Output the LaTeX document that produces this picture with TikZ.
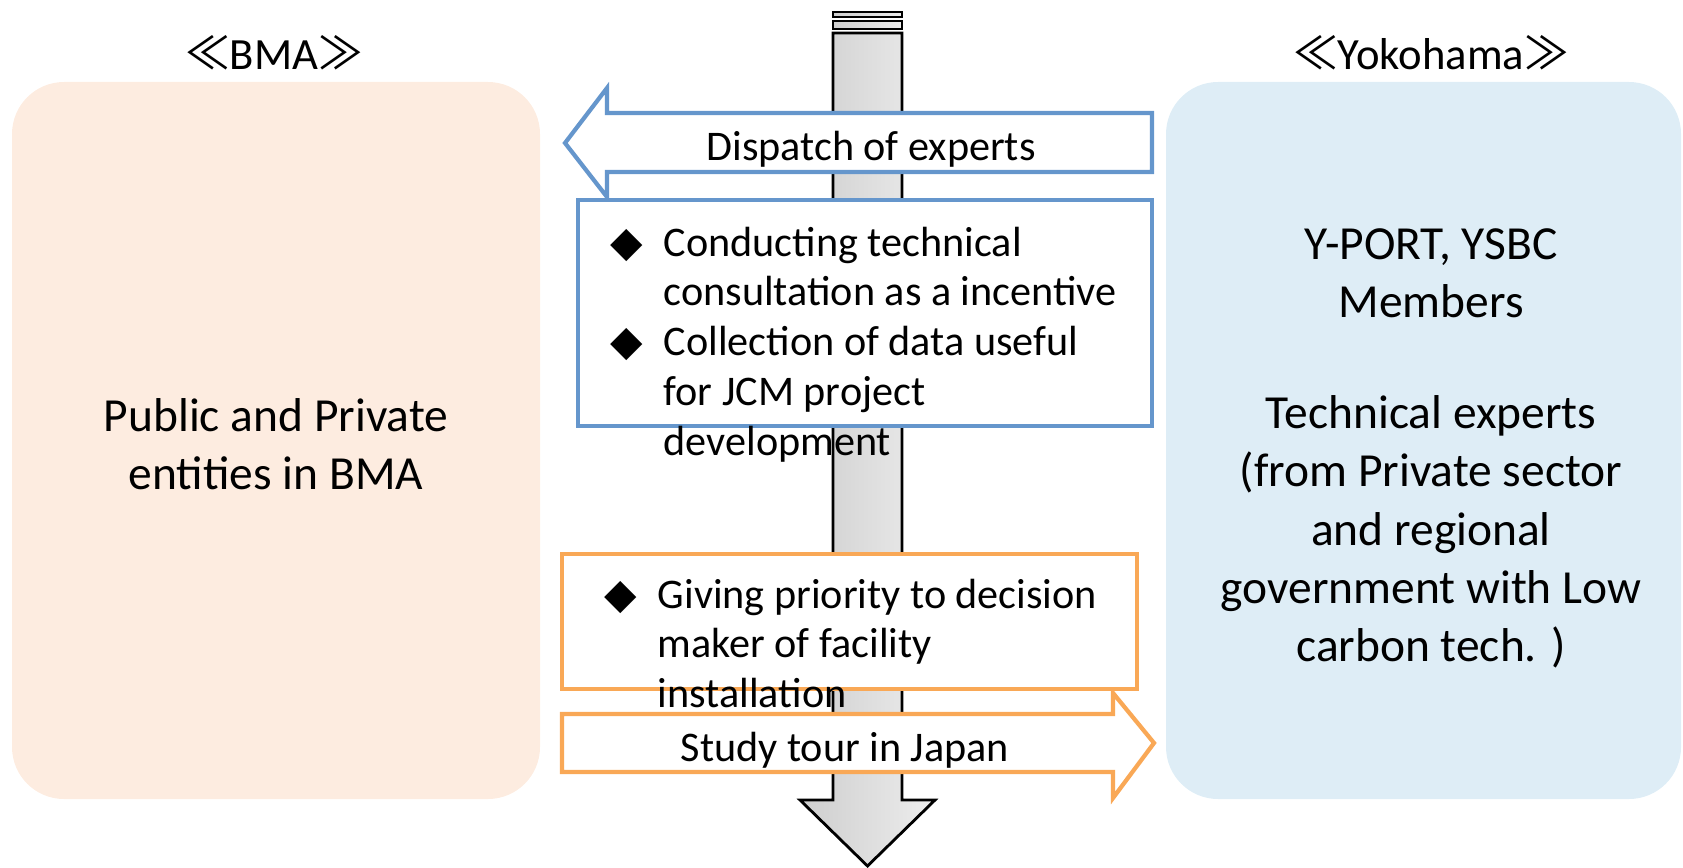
\documentclass[tikz,border=0pt]{standalone}
\usepackage{fontspec}
\setmainfont{Carlito}
\newfontfamily\symfont{DejaVu Sans}
\newfontfamily\cjkfont{Noto Sans CJK JP}

\definecolor{bmafill}{RGB}{253,236,224}
\definecolor{yokofill}{RGB}{222,237,246}
\definecolor{blueline}{RGB}{101,150,204}
\definecolor{orangeline}{RGB}{249,168,86}
\definecolor{shaftleft}{RGB}{206,206,206}
\definecolor{shaftright}{RGB}{237,237,237}

\newcommand{\blt}{\llap{{\symfont ◆}\hspace{6pt}}}
\newcommand{\ltag}{{\cjkfont ≪}}
\newcommand{\rtag}{{\cjkfont ≫}}

\begin{document}
\begin{tikzpicture}[x=0.01cm,y=-0.01cm]
    \tikzstyle{panel}=[rounded corners=0.52cm]
    \tikzstyle{title}=[font=\fontsize{12.7}{15}\selectfont]
    \tikzstyle{big text}=[align=center, font=\fontsize{13.5}{16.6}\selectfont]
    \tikzstyle{list text}=[align=left, inner sep=0pt, anchor=north west, font=\fontsize{12}{14.2}\selectfont]
    \tikzstyle{arrow text}=[font=\fontsize{12}{14.2}\selectfont]
    \tikzstyle{blue frame}=[draw=blueline, line width=1.2pt, fill=white]
    \tikzstyle{orange frame}=[draw=orangeline, line width=1.2pt, fill=white]

    \useasboundingbox (0,0) rectangle (1683,867);

    % Two sides
    \fill[bmafill, panel] (12,82) rectangle (540,799);
    \fill[yokofill, panel] (1166,82) rectangle (1681,799);
    \node[title] (bma) at (274,53) {\ltag BMA\rtag};
    \node[title] (yokohama) at (1431,53) {\ltag Yokohama\rtag};

    % Time arrow in the middle
    \path[draw=black, line width=0.8pt, left color=shaftleft, right color=shaftright]
        (833,12) rectangle (902,17);
    \path[draw=black, line width=0.8pt, left color=shaftleft, right color=shaftright]
        (833,21) rectangle (902,29);
    \path[draw=black, line width=0.8pt, left color=shaftleft, right color=shaftright]
        (833,33) -- (902,33) -- (902,800) -- (935,800) -- (867.5,866)
        -- (800,800) -- (833,800) -- cycle;

    % Dispatch of experts (to BMA)
    \draw[blue frame] (565,143) -- (607,88) -- (607,113) -- (1152,113)
        -- (1152,172) -- (607,172) -- (607,197) -- cycle;
    \node[arrow text] (dispatch) at (871,149) {Dispatch of experts};

    \draw[blue frame] (578,200) rectangle (1152,426);
    \node[list text] (consult) at (663,226)
        {\blt Conducting technical\\
         consultation as a incentive\\
         \blt Collection of data useful\\
         for JCM project\\
         development};

    % Study tour (to Yokohama)
    \draw[orange frame] (562,554) rectangle (1137,689);
    \draw[orange frame] (562,714) -- (1113,714) -- (1113,693) -- (1154,743)
        -- (1113,798) -- (1113,772) -- (562,772) -- cycle;
    \node[list text] (priority) at (657,578)
        {\blt Giving priority to decision\\
         maker of facility\\
         installation};
    \node[arrow text] (study) at (845,750) {Study tour in Japan};

    % Panel texts
    \node[big text] (bma text) at (276,444) {Public and Private\\entities in BMA};
    \node[big text] (members) at (1431,273) {Y-PORT, YSBC\\Members};
    \node[big text] (experts) at (1431,532)
        {Technical experts\\(from Private sector\\and regional\\government with Low\\carbon tech. )};
\end{tikzpicture}
\end{document}
